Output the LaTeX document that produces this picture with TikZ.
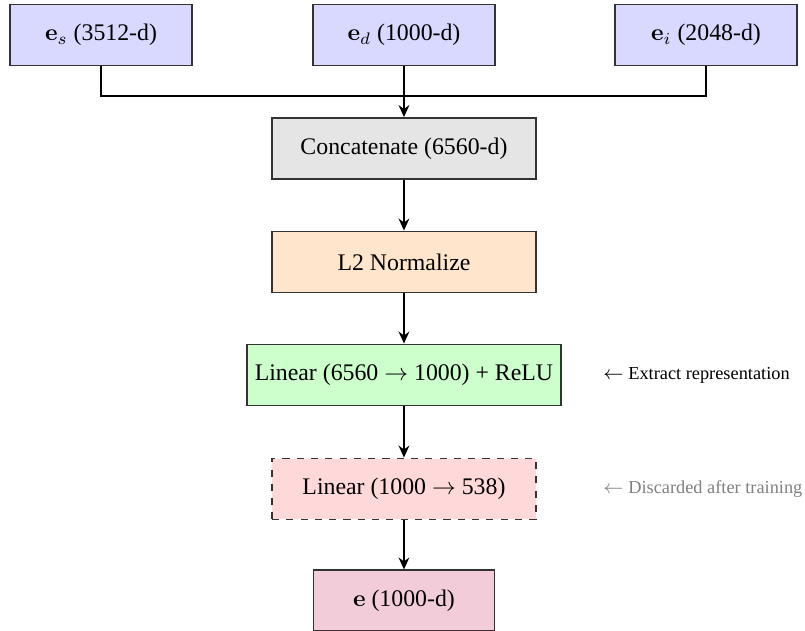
\documentclass[tikz,border=0pt]{standalone}
\usepackage[no-math]{fontspec}
\setmainfont{Liberation Serif}
\usepackage{amsmath,amssymb}
\usepackage{tikz}
\usetikzlibrary{arrows.meta}

\begin{document}
\begin{tikzpicture}[auto,
		box_style/.style={rectangle,draw=black!80,thick,minimum height=0.9cm,font=\normalsize},
		in_style/.style={box_style,fill=blue!15,minimum width=2.686cm},
		mid_style/.style={box_style,minimum width=3.897cm},
		edge_style/.style={draw=black,thick},
		arrow_style/.style={edge_style,-{Stealth[length=5pt,width=4.5pt]}},
		note_style/.style={anchor=west,font=\fontsize{7.7pt}{9pt}\selectfont,inner sep=1pt}]
		
		\useasboundingbox (0,0) rectangle (11.883,-9.314);
		
		\node[in_style] (es) at (1.491,-0.517)  {$\mathbf{e}_s$ (3512-d)};
		\node[in_style] (ed) at (5.963,-0.517)  {$\mathbf{e}_d$ (1000-d)};
		\node[in_style] (ei) at (10.421,-0.517) {$\mathbf{e}_i$ (2048-d)};
		\node[mid_style,fill=gray!20]   (concat) at (5.963,-2.192) {Concatenate (6560-d)};
		\node[mid_style,fill=orange!20] (norm)   at (5.963,-3.867) {L2 Normalize};
		\node[box_style,fill=green!20]  (lin1)   at (5.963,-5.535) {Linear (6560 $\rightarrow$ 1000) + ReLU};
		\node[mid_style,fill=red!15,dashed] (lin2) at (5.963,-7.218) {Linear (1000 $\rightarrow$ 538)};
		\node[box_style,fill=purple!20,minimum width=2.672cm] (out) at (5.963,-8.870) {$\mathbf{e}$ (1000-d)};
		
		\node[note_style] (n1) at (8.866,-5.535) {$\leftarrow$ Extract representation};
		\node[note_style,text=gray] (n2) at (8.866,-7.218) {$\leftarrow$ Discarded after training};
		
		\coordinate (bus) at (5.963,-1.417);
		
		\draw[edge_style]  (es.south) |- (bus);
		\draw[edge_style]  (ei.south) |- (bus);
		\draw[arrow_style] (ed.south) -- (concat.north);
		\draw[arrow_style] (concat.south) -- (norm.north);
		\draw[arrow_style] (norm.south) -- (lin1.north);
		\draw[arrow_style] (lin1.south) -- (lin2.north);
		\draw[arrow_style] (lin2.south) -- (out.north);
		
\end{tikzpicture}
\end{document}
